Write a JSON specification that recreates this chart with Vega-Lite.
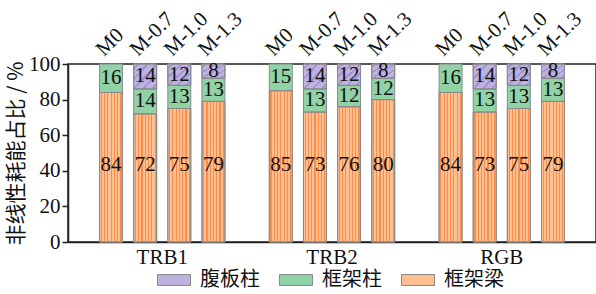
{
  "$schema": "https://vega.github.io/schema/vega-lite/v6.json",
  "width": 528,
  "height": 178,
  "autosize": {"type": "none"},
  "padding": {"left": 68, "top": 64, "right": 0, "bottom": 52},
  "data": {
    "values": [
      {"group": "TRB1", "model": "M0", "part": "框架梁", "value": 84},
      {"group": "TRB1", "model": "M0", "part": "框架柱", "value": 16},
      {"group": "TRB1", "model": "M-0.7", "part": "框架梁", "value": 72},
      {"group": "TRB1", "model": "M-0.7", "part": "框架柱", "value": 14},
      {"group": "TRB1", "model": "M-0.7", "part": "腹板柱", "value": 14},
      {"group": "TRB1", "model": "M-1.0", "part": "框架梁", "value": 75},
      {"group": "TRB1", "model": "M-1.0", "part": "框架柱", "value": 13},
      {"group": "TRB1", "model": "M-1.0", "part": "腹板柱", "value": 12},
      {"group": "TRB1", "model": "M-1.3", "part": "框架梁", "value": 79},
      {"group": "TRB1", "model": "M-1.3", "part": "框架柱", "value": 13},
      {"group": "TRB1", "model": "M-1.3", "part": "腹板柱", "value": 8},
      {"group": "TRB2", "model": "M0", "part": "框架梁", "value": 85},
      {"group": "TRB2", "model": "M0", "part": "框架柱", "value": 15},
      {"group": "TRB2", "model": "M-0.7", "part": "框架梁", "value": 73},
      {"group": "TRB2", "model": "M-0.7", "part": "框架柱", "value": 13},
      {"group": "TRB2", "model": "M-0.7", "part": "腹板柱", "value": 14},
      {"group": "TRB2", "model": "M-1.0", "part": "框架梁", "value": 76},
      {"group": "TRB2", "model": "M-1.0", "part": "框架柱", "value": 12},
      {"group": "TRB2", "model": "M-1.0", "part": "腹板柱", "value": 12},
      {"group": "TRB2", "model": "M-1.3", "part": "框架梁", "value": 80},
      {"group": "TRB2", "model": "M-1.3", "part": "框架柱", "value": 12},
      {"group": "TRB2", "model": "M-1.3", "part": "腹板柱", "value": 8},
      {"group": "RGB", "model": "M0", "part": "框架梁", "value": 84},
      {"group": "RGB", "model": "M0", "part": "框架柱", "value": 16},
      {"group": "RGB", "model": "M-0.7", "part": "框架梁", "value": 73},
      {"group": "RGB", "model": "M-0.7", "part": "框架柱", "value": 13},
      {"group": "RGB", "model": "M-0.7", "part": "腹板柱", "value": 14},
      {"group": "RGB", "model": "M-1.0", "part": "框架梁", "value": 75},
      {"group": "RGB", "model": "M-1.0", "part": "框架柱", "value": 13},
      {"group": "RGB", "model": "M-1.0", "part": "腹板柱", "value": 12},
      {"group": "RGB", "model": "M-1.3", "part": "框架梁", "value": 79},
      {"group": "RGB", "model": "M-1.3", "part": "框架柱", "value": 13},
      {"group": "RGB", "model": "M-1.3", "part": "腹板柱", "value": 8}
    ]
  },
  "transform": [
    {"stack": "value", "groupby": ["group", "model"], "as": ["y0", "y1"]}
  ],
  "encoding": {
    "x": {
      "field": "group", "type": "nominal",
      "sort": ["TRB1", "TRB2", "RGB"],
      "scale": {"paddingInner": 0, "paddingOuter": 0.055},
      "axis": {"title": null, "labelAngle": 0, "ticks": false, "labelPadding": 4}
    },
    "xOffset": {
      "field": "model", "type": "nominal",
      "sort": ["M0", "M-0.7", "M-1.0", "M-1.3"],
      "scale": {"paddingInner": 0.327, "paddingOuter": 0.65}
    }
  },
  "layer": [
    {
      "mark": {"type": "bar", "stroke": "#8a8a8a", "strokeWidth": 1},
      "encoding": {
        "y": {
          "field": "y0", "type": "quantitative",
          "scale": {"domain": [0, 100], "nice": false},
          "axis": {"values": [0, 20, 40, 60, 80, 100], "labelOverlap": false, "title": "非线性耗能占比 / %"}
        },
        "y2": {"field": "y1"},
        "color": {
          "field": "part", "type": "nominal",
          "scale": {"domain": ["腹板柱", "框架柱", "框架梁"], "range": ["#bdb2e0", "#8fd3a7", "#ffbf90"]},
          "legend": {
            "title": null, "orient": "none", "legendX": 89, "legendY": 199,
            "direction": "horizontal", "columns": 3,
            "symbolType": "M-1,-0.33H1V0.33H-1Z", "symbolSize": 1089,
            "symbolStrokeColor": "#888", "symbolStrokeWidth": 1,
            "labelFont": "Noto Sans CJK SC", "labelFontSize": 20, "labelColor": "#111",
            "labelOffset": 9, "columnPadding": 17
          }
        }
      }
    },
    {
      "transform": [{"filter": "datum.part === '框架梁'"}],
      "mark": {
        "type": "bar", "stroke": "#8a8a8a", "strokeWidth": 1,
        "fill": {
          "gradient": "linear", "x1": 0, "y1": 0, "x2": 1, "y2": 0,
          "stops": [
            {"offset": 0, "color": "rgba(245,130,60,0)"},
            {"offset": 0.05, "color": "rgba(245,130,60,0)"}, {"offset": 0.05, "color": "rgba(245,130,60,0.8)"},
            {"offset": 0.1, "color": "rgba(245,130,60,0.8)"}, {"offset": 0.1, "color": "rgba(245,130,60,0)"},
            {"offset": 0.193, "color": "rgba(245,130,60,0)"}, {"offset": 0.193, "color": "rgba(245,130,60,0.8)"},
            {"offset": 0.243, "color": "rgba(245,130,60,0.8)"}, {"offset": 0.243, "color": "rgba(245,130,60,0)"},
            {"offset": 0.336, "color": "rgba(245,130,60,0)"}, {"offset": 0.336, "color": "rgba(245,130,60,0.8)"},
            {"offset": 0.386, "color": "rgba(245,130,60,0.8)"}, {"offset": 0.386, "color": "rgba(245,130,60,0)"},
            {"offset": 0.479, "color": "rgba(245,130,60,0)"}, {"offset": 0.479, "color": "rgba(245,130,60,0.8)"},
            {"offset": 0.529, "color": "rgba(245,130,60,0.8)"}, {"offset": 0.529, "color": "rgba(245,130,60,0)"},
            {"offset": 0.621, "color": "rgba(245,130,60,0)"}, {"offset": 0.621, "color": "rgba(245,130,60,0.8)"},
            {"offset": 0.671, "color": "rgba(245,130,60,0.8)"}, {"offset": 0.671, "color": "rgba(245,130,60,0)"},
            {"offset": 0.764, "color": "rgba(245,130,60,0)"}, {"offset": 0.764, "color": "rgba(245,130,60,0.8)"},
            {"offset": 0.814, "color": "rgba(245,130,60,0.8)"}, {"offset": 0.814, "color": "rgba(245,130,60,0)"},
            {"offset": 0.907, "color": "rgba(245,130,60,0)"}, {"offset": 0.907, "color": "rgba(245,130,60,0.8)"},
            {"offset": 0.957, "color": "rgba(245,130,60,0.8)"}, {"offset": 0.957, "color": "rgba(245,130,60,0)"},
            {"offset": 1, "color": "rgba(245,130,60,0)"}
          ]
        }
      },
      "encoding": {
        "y": {"field": "y0", "type": "quantitative", "axis": {"values": [0, 20, 40, 60, 80, 100], "labelOverlap": false, "title": "非线性耗能占比 / %"}},
        "y2": {"field": "y1"}
      }
    },
    {
      "transform": [{"filter": "datum.part === '腹板柱'"}],
      "mark": {
        "type": "bar", "stroke": "#8a8a8a", "strokeWidth": 1,
        "fill": {
          "gradient": "linear", "x1": 0, "y1": 0, "x2": 1, "y2": 1,
          "stops": [
            {"offset": 0, "color": "rgba(130,115,185,0)"},
            {"offset": 0.08, "color": "rgba(130,115,185,0)"}, {"offset": 0.08, "color": "rgba(130,115,185,0.5)"},
            {"offset": 0.13, "color": "rgba(130,115,185,0.5)"}, {"offset": 0.13, "color": "rgba(130,115,185,0)"},
            {"offset": 0.28, "color": "rgba(130,115,185,0)"}, {"offset": 0.28, "color": "rgba(130,115,185,0.5)"},
            {"offset": 0.33, "color": "rgba(130,115,185,0.5)"}, {"offset": 0.33, "color": "rgba(130,115,185,0)"},
            {"offset": 0.48, "color": "rgba(130,115,185,0)"}, {"offset": 0.48, "color": "rgba(130,115,185,0.5)"},
            {"offset": 0.53, "color": "rgba(130,115,185,0.5)"}, {"offset": 0.53, "color": "rgba(130,115,185,0)"},
            {"offset": 0.68, "color": "rgba(130,115,185,0)"}, {"offset": 0.68, "color": "rgba(130,115,185,0.5)"},
            {"offset": 0.73, "color": "rgba(130,115,185,0.5)"}, {"offset": 0.73, "color": "rgba(130,115,185,0)"},
            {"offset": 0.88, "color": "rgba(130,115,185,0)"}, {"offset": 0.88, "color": "rgba(130,115,185,0.5)"},
            {"offset": 0.93, "color": "rgba(130,115,185,0.5)"}, {"offset": 0.93, "color": "rgba(130,115,185,0)"},
            {"offset": 1, "color": "rgba(130,115,185,0)"}
          ]
        }
      },
      "encoding": {
        "y": {"field": "y0", "type": "quantitative", "axis": {"values": [0, 20, 40, 60, 80, 100], "labelOverlap": false, "title": "非线性耗能占比 / %"}},
        "y2": {"field": "y1"}
      }
    },
    {
      "transform": [
        {"filter": "datum.part !== '框架梁'"},
        {"fold": ["y0", "y1"], "as": ["edge", "pos"]}
      ],
      "mark": {"type": "text", "font": "Liberation Serif", "fontSize": 21, "baseline": "middle", "color": "#111"},
      "encoding": {
        "y": {"field": "pos", "type": "quantitative", "aggregate": "mean", "axis": {"values": [0, 20, 40, 60, 80, 100], "labelOverlap": false, "title": "非线性耗能占比 / %"}},
        "detail": {"field": "part", "type": "nominal"},
        "text": {"field": "value", "type": "quantitative"}
      }
    },
    {
      "transform": [{"filter": "datum.part === '框架梁'"}],
      "mark": {"type": "text", "font": "Liberation Serif", "fontSize": 21, "baseline": "middle", "color": "#111"},
      "encoding": {
        "y": {"datum": 43, "type": "quantitative", "axis": {"values": [0, 20, 40, 60, 80, 100], "labelOverlap": false, "title": "非线性耗能占比 / %"}},
        "text": {"field": "value", "type": "quantitative"}
      }
    },
    {
      "transform": [{"filter": "datum.part === '框架梁'"}],
      "mark": {"type": "text", "font": "Liberation Serif", "fontSize": 21, "angle": 315, "align": "left", "baseline": "alphabetic", "dy": -10, "color": "#111"},
      "encoding": {
        "y": {"datum": 100, "type": "quantitative", "axis": {"values": [0, 20, 40, 60, 80, 100], "labelOverlap": false, "title": "非线性耗能占比 / %"}},
        "text": {"field": "model", "type": "nominal"}
      }
    }
  ],
  "config": {
    "font": "Liberation Serif",
    "view": {"stroke": "#222", "strokeWidth": 1.5},
    "axis": {
      "labelFont": "Liberation Serif", "labelFontSize": 21, "labelColor": "#111",
      "domainColor": "#222", "domainWidth": 1.5, "tickColor": "#222", "tickWidth": 1.5, "grid": false
    },
    "axisY": {
      "tickSize": 6, "labelPadding": 2, "labelOverlap": false,
      "titleFont": "Noto Sans CJK SC", "titleFontSize": 21, "titleFontWeight": "normal",
      "titleColor": "#111", "titlePadding": 2
    }
  }
}
